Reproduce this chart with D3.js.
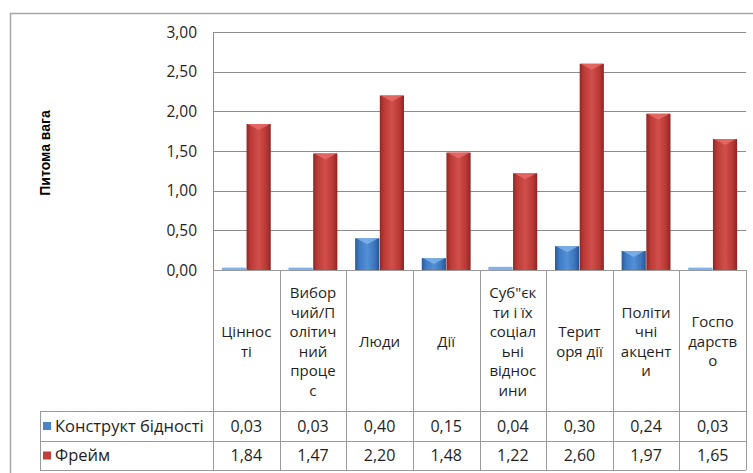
<!DOCTYPE html>
<html>
  <head>
    <meta charset="utf-8">
    <script src="https://d3js.org/d3.v7.min.js"></script>
    <title>Питома вага</title>
    <style>
      body { margin: 0; background: #fff; }
      text { font-family: "Open Sans", sans-serif; fill: #1f1f1f; }
    </style>
  </head>
  <body>
    <svg width="753" height="473"></svg>
    <script>
      // Data
      const categoryLines = [
        ['Ціннос', 'ті'],
        ['Вибор', 'чий/П', 'олітич', 'ний', 'проце', 'с'],
        ['Люди'],
        ['Дії'],
        ['Суб"єк', 'ти і їх', 'соціал', 'ьні', 'віднос', 'ини'],
        ['Терит', 'оря дії'],
        ['Політи', 'чні', 'акцент', 'и'],
        ['Госпо', 'дарств', 'о']
      ];
      const seriesNames = ['Конструкт бідності', 'Фрейм'];
      const construct = [0.03, 0.03, 0.40, 0.15, 0.04, 0.30, 0.24, 0.03];
      const frame = [1.84, 1.47, 2.20, 1.48, 1.22, 2.60, 1.97, 1.65];
      const yTicks = [0, 0.5, 1, 1.5, 2, 2.5, 3];

      const svg = d3.select('svg');

      // Layout
      const plotLeft = 213, plotRight = 746, plotTop = 32, plotBottom = 270;
      const headBottom = 411, row1Bottom = 441, row2Bottom = 470;
      const legendLeft = 40;

      const fmt = v => d3.format('.2f')(v).replace('.', ',');

      const x = d3.scaleBand()
        .domain(d3.range(categoryLines.length))
        .range([plotLeft, plotRight]);
      const xInner = d3.scaleBand()
        .domain([0, 1])
        .range([0, x.bandwidth()])
        .paddingInner(0.02)
        .paddingOuter(0.36);
      const y = d3.scaleLinear().domain([0, 3]).range([plotBottom, plotTop]);

      // gradients for the bevelled bars
      const defs = svg.append('defs');
      const grads = [
        { id: 'gBlue', stops: ['#2a5a97', '#3f7bc4', '#5390d6', '#3b74ba', '#275390'] },
        { id: 'gRed', stops: ['#8e2926', '#bd3b37', '#d14f4b', '#b83834', '#8a2724'] }
      ];
      grads.forEach(g => {
        const lg = defs.append('linearGradient').attr('id', g.id)
          .attr('x1', 0).attr('x2', 1).attr('y1', 0).attr('y2', 0);
        [0, 0.18, 0.5, 0.82, 1].forEach((o, i) => {
          lg.append('stop').attr('offset', o).attr('stop-color', g.stops[i]);
        });
      });
      const fills = ['url(#gBlue)', 'url(#gRed)'];
      const capFills = ['#7fb2ea', '#e66b67'];
      const swatchFills = ['#4a84c8', '#c0403c'];

      // outer frame (cut off at right and bottom)
      svg.append('path')
        .attr('d', 'M10.5,480 L10.5,13.5 L760,13.5')
        .attr('fill', 'none')
        .attr('stroke', '#a6a6a6')
        .attr('stroke-width', 1.5);

      // gridlines
      svg.append('g')
        .selectAll('line').data(yTicks).enter().append('line')
          .attr('x1', plotLeft).attr('x2', plotRight)
          .attr('y1', d => Math.round(y(d)) + 0.5)
          .attr('y2', d => Math.round(y(d)) + 0.5)
          .attr('stroke', '#8c8c8c');

      // y axis line
      svg.append('line')
        .attr('x1', plotLeft + 0.5).attr('x2', plotLeft + 0.5)
        .attr('y1', plotTop).attr('y2', plotBottom)
        .attr('stroke', '#8c8c8c');

      // y tick labels
      svg.append('g')
        .selectAll('text').data(yTicks).enter().append('text')
          .attr('x', 197)
          .attr('y', d => y(d))
          .attr('dy', '0.36em')
          .attr('text-anchor', 'end')
          .style('font-size', '15.5px')
          .text(fmt);

      // y title
      svg.append('text')
        .attr('transform', 'translate(50,153) rotate(-90)')
        .attr('text-anchor', 'middle')
        .style('font-family', '"Liberation Sans", Arial, sans-serif')
        .style('font-weight', 'bold')
        .style('font-size', '14px')
        .style('fill', '#000')
        .text('Питома вага');

      // bars
      [construct, frame].forEach((vals, s) => {
        const g = svg.append('g');
        const bars = g.selectAll('g').data(vals.map((v, i) => ({ v, i })))
          .enter().append('g');
        bars.append('rect')
          .attr('x', d => x(d.i) + xInner(s))
          .attr('y', d => y(d.v))
          .attr('width', xInner.bandwidth())
          .attr('height', d => plotBottom - y(d.v))
          .attr('fill', d => plotBottom - y(d.v) < 4 ? capFills[s] : fills[s]);
        bars.filter(d => plotBottom - y(d.v) >= 4).append('path')
          .attr('d', d => {
            const x0 = x(d.i) + xInner(s) + 1, w = xInner.bandwidth() - 2;
            const top = y(d.v), h = Math.min(6, plotBottom - top);
            return `M${x0},${top} L${x0 + w},${top} L${x0 + w / 2},${top + h} Z`;
          })
          .attr('fill', capFills[s])
          .attr('opacity', 0.85);
      });

      // data table lines
      const tbl = svg.append('g').attr('stroke', '#9a9a9a').attr('fill', 'none');
      tbl.selectAll('.v').data(d3.range(categoryLines.length + 1)).enter().append('line')
        .attr('x1', i => Math.round(i < categoryLines.length ? x(i) : plotRight) + 0.5)
        .attr('x2', i => Math.round(i < categoryLines.length ? x(i) : plotRight) + 0.5)
        .attr('y1', plotBottom).attr('y2', row2Bottom);
      [plotBottom, headBottom, row1Bottom, row2Bottom].forEach((yy, k) => {
        tbl.append('line')
          .attr('x1', k === 0 ? plotLeft : legendLeft).attr('x2', plotRight)
          .attr('y1', yy + 0.5).attr('y2', yy + 0.5);
      });
      tbl.append('line')
        .attr('x1', legendLeft + 0.5).attr('x2', legendLeft + 0.5)
        .attr('y1', headBottom).attr('y2', row2Bottom);

      // category header labels
      const lineH = 19.5;
      const headMid = (plotBottom + headBottom) / 2 + 1;
      categoryLines.forEach((lines, i) => {
        const t = svg.append('text')
          .attr('text-anchor', 'middle')
          .style('font-size', '15px');
        lines.forEach((ln, j) => {
          t.append('tspan')
            .attr('x', x(i) + x.bandwidth() / 2)
            .attr('y', headMid + (j - (lines.length - 1) / 2) * lineH)
            .attr('dy', '0.36em')
            .text(ln);
        });
      });

      // table rows
      const rowMids = [(headBottom + row1Bottom) / 2, (row1Bottom + row2Bottom) / 2];
      [construct, frame].forEach((vals, s) => {
        svg.append('rect')
          .attr('x', 43).attr('y', rowMids[s] - 4)
          .attr('width', 8).attr('height', 8)
          .attr('fill', swatchFills[s]);
        svg.append('text')
          .attr('x', 55).attr('y', rowMids[s]).attr('dy', '0.36em')
          .style('font-size', '16.5px')
          .text(seriesNames[s]);
        svg.append('g')
          .selectAll('text').data(vals).enter().append('text')
            .attr('x', (d, i) => x(i) + x.bandwidth() / 2)
            .attr('y', rowMids[s]).attr('dy', '0.36em')
            .attr('text-anchor', 'middle')
            .style('font-size', '16px')
            .text(fmt);
      });
    </script>
  </body>
</html>
